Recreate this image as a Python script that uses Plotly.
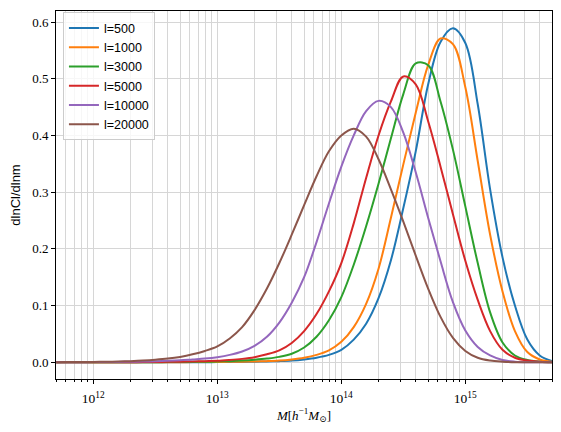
import math
import plotly.graph_objects as go

# log10 of halo mass [h^-1 Msun], shared sampling of the curves
log_mass = [11.7, 11.8, 11.9, 12.0, 12.1, 12.2, 12.3, 12.4, 12.5, 12.6,
            12.7, 12.8, 12.9, 13.0, 13.1, 13.2, 13.3, 13.4, 13.5, 13.6,
            13.7, 13.8, 13.9, 14.0, 14.1, 14.2, 14.3, 14.4, 14.5, 14.6,
            14.7, 14.8, 14.9, 15.0, 15.1, 15.2, 15.3, 15.4, 15.5, 15.6,
            15.7]

# dlnCl/dlnm values
val_500 = [0, 0, 0, 0, 0, 0, 0, 0, 0, 0,
           0.0001, 0.0001, 0.0002, 0.0003, 0.0005, 0.0007, 0.001, 0.0014, 0.002, 0.003,
           0.005, 0.008, 0.013, 0.022, 0.040, 0.068, 0.113, 0.180, 0.272, 0.372,
           0.490, 0.565, 0.589, 0.563, 0.455, 0.305, 0.185, 0.100, 0.040, 0.012,
           0.002]
val_1000 = [0, 0, 0, 0, 0, 0, 0, 0, 0, 0.0001,
            0.0002, 0.0003, 0.0004, 0.0006, 0.0008, 0.001, 0.0014, 0.002, 0.003, 0.005,
            0.008, 0.013, 0.021, 0.036, 0.062, 0.103, 0.165, 0.255, 0.349, 0.440,
            0.524, 0.571, 0.561, 0.485, 0.355, 0.225, 0.125, 0.055, 0.018, 0.005,
            0.001]
val_3000 = [0, 0, 0, 0, 0, 0, 0, 0.0001, 0.0002, 0.0003,
            0.0004, 0.0006, 0.0009, 0.0013, 0.002, 0.003, 0.0045, 0.0065, 0.0095, 0.015,
            0.026, 0.045, 0.074, 0.115, 0.172, 0.240, 0.315, 0.395, 0.473, 0.527,
            0.524, 0.460, 0.375, 0.275, 0.175, 0.088, 0.035, 0.012, 0.004, 0.001,
            0]
val_5000 = [0, 0, 0, 0.0001, 0.0001, 0.0002, 0.0002, 0.0003, 0.0005, 0.0008,
            0.001, 0.0015, 0.002, 0.0025, 0.004, 0.006, 0.009, 0.014, 0.021, 0.034,
            0.055, 0.085, 0.125, 0.175, 0.245, 0.325, 0.400, 0.460, 0.504, 0.490,
            0.425, 0.345, 0.261, 0.179, 0.110, 0.055, 0.022, 0.008, 0.003, 0.001,
            0]
val_10000 = [0.0001, 0.0001, 0.0002, 0.0003, 0.0005, 0.0007, 0.001, 0.0013, 0.0018, 0.0025,
             0.0035, 0.005, 0.0065, 0.009, 0.013, 0.019, 0.029, 0.045, 0.070, 0.105,
             0.150, 0.212, 0.280, 0.345, 0.400, 0.443, 0.461, 0.450, 0.405, 0.335,
             0.255, 0.178, 0.106, 0.056, 0.027, 0.012, 0.004, 0.001, 0, 0,
             0]
val_20000 = [0.0002, 0.0003, 0.0004, 0.0006, 0.0009, 0.0013, 0.002, 0.003, 0.0045, 0.0065,
             0.0095, 0.014, 0.020, 0.028, 0.042, 0.062, 0.092, 0.130, 0.175, 0.225,
             0.277, 0.328, 0.372, 0.400, 0.412, 0.398, 0.358, 0.305, 0.248, 0.188,
             0.130, 0.080, 0.043, 0.020, 0.008, 0.003, 0.001, 0, 0, 0,
             0]

series_names = ["l=500", "l=1000", "l=3000", "l=5000", "l=10000", "l=20000"]
series_vals = [val_500, val_1000, val_3000, val_5000, val_10000, val_20000]
colors = ["#1f77b4", "#ff7f0e", "#2ca02c", "#d62728", "#9467bd", "#8c564b"]

major_ticks = [1e12, 1e13, 1e14, 1e15]
major_text = ["10<sup>12</sup>", "10<sup>13</sup>", "10<sup>14</sup>", "10<sup>15</sup>"]
y_ticks = [0.0, 0.1, 0.2, 0.3, 0.4, 0.5, 0.6]
y_text = ["0.0", "0.1", "0.2", "0.3", "0.4", "0.5", "0.6"]

xmin, xmax = 5e11, 5e15
minor_ticks = [k * 10.0 ** e for e in range(11, 16) for k in range(2, 10)
               if xmin <= k * 10.0 ** e <= xmax]

mass = [10 ** m for m in log_mass]

fig = go.Figure()
for name, v, c in zip(series_names, series_vals, colors):
    fig.add_trace(go.Scatter(
        x=mass, y=v, mode="lines", name=name,
        line=dict(color=c, width=2, shape="spline", smoothing=1.0),
    ))

grid_c = "#d6d6d6"
serif = "Liberation Serif, DejaVu Serif, serif"
sans = "Liberation Sans, Arial, sans-serif"

fig.update_layout(
    width=561, height=432,
    margin=dict(l=56, r=9, t=11, b=53),
    paper_bgcolor="white", plot_bgcolor="white",
    showlegend=True,
    legend=dict(
        x=0.014, y=0.996, xanchor="left", yanchor="top",
        bgcolor="rgba(255,255,255,0.8)", bordercolor="#cccccc", borderwidth=1,
        font=dict(family=sans, size=12.5, color="black"),
        tracegroupgap=0, itemwidth=30,
    ),
    xaxis=dict(
        type="log", range=[math.log10(xmin), math.log10(xmax)],
        showline=True, linecolor="black", linewidth=1, mirror=True,
        ticks="outside", ticklen=4, tickwidth=1, tickcolor="black",
        tickmode="array", tickvals=major_ticks, ticktext=major_text,
        tickfont=dict(family=serif, size=13.5, color="black"),
        ticklabelstandoff=3,
        showgrid=True, gridcolor=grid_c, gridwidth=1,
        minor=dict(tickmode="array", tickvals=minor_ticks, ticks="outside", ticklen=2,
                   tickwidth=1, tickcolor="black", showgrid=True, gridcolor=grid_c, gridwidth=1),
        zeroline=False,
        title=dict(text="<i>M</i>[<i>h</i><sup>−1</sup><i>M</i><sub>⊙</sub>]",
                   font=dict(family=serif, size=13, color="black"), standoff=3),
    ),
    yaxis=dict(
        range=[-0.0295, 0.6195],
        showline=True, linecolor="black", linewidth=1, mirror=True,
        ticks="outside", ticklen=4, tickwidth=1, tickcolor="black",
        tickmode="array", tickvals=y_ticks, ticktext=y_text,
        tickfont=dict(family=serif, size=13, color="black"),
        showgrid=True, gridcolor=grid_c, gridwidth=1, zeroline=False,
        title=dict(text="dlnCl/dlnm", font=dict(family=sans, size=13, color="black"), standoff=8),
    ),
)

fig.write_html("out.html")
